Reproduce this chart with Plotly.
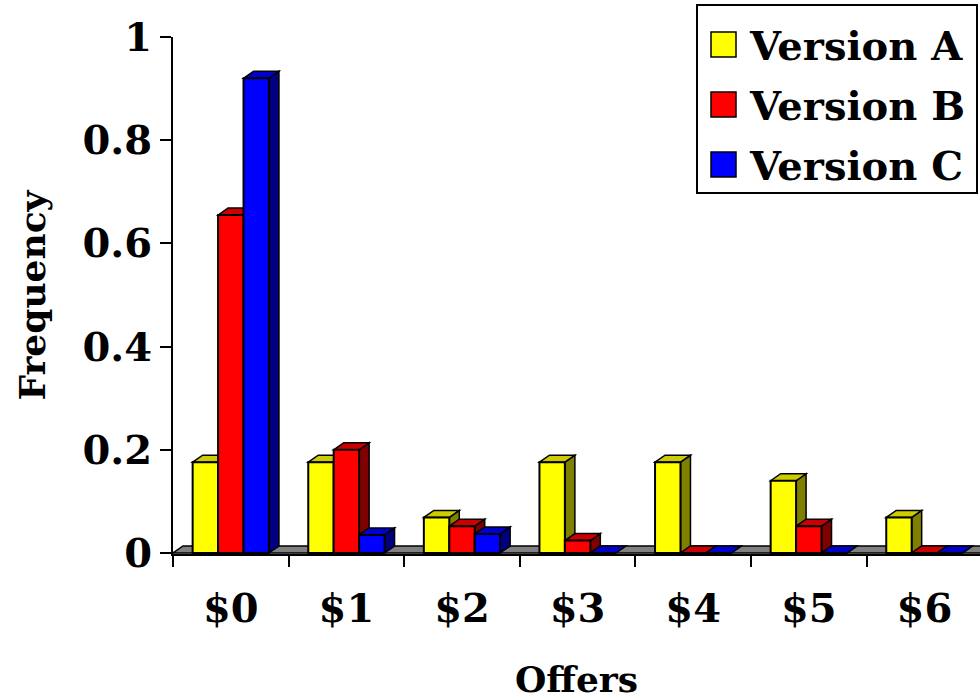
import plotly.graph_objects as go

# Offer categories and the share of responders in each version
offers = ["$0", "$1", "$2", "$3", "$4", "$5", "$6"]
series_names = ["Version A", "Version B", "Version C"]
version_a = [0.176, 0.176, 0.069, 0.176, 0.176, 0.14, 0.069]
version_b = [0.655, 0.2, 0.052, 0.024, 0.0, 0.052, 0.0]
version_c = [0.92, 0.035, 0.037, 0.0, 0.0, 0.0, 0.0]
y_ticks = [0, 0.2, 0.4, 0.6, 0.8, 1]
y_tick_labels = ["0", "0.2", "0.4", "0.6", "0.8", "1"]

series_values = [version_a, version_b, version_c]
front_colors = ["#FFFF00", "#FF0000", "#0000FF"]
top_colors = ["#CCCC00", "#CC0000", "#0000CC"]
side_colors = ["#808000", "#800000", "#000080"]

FONT = "DejaVu Serif"
W, H = 980, 700
plot_l, plot_r, plot_t, plot_b = 173, 980, 37, 554
px_per_cat = 115.6
px_per_unit = 516.0
zero_px = 553.0

x_range = [-0.5, -0.5 + (plot_r - plot_l) / px_per_cat]
y_range = [-(plot_b - zero_px) / px_per_unit, (zero_px - plot_t) / px_per_unit]

# oblique offset used for the pseudo-3D depth of bars and floor
dx = 10 / px_per_cat
dy = 7 / px_per_unit
bargap = 0.34
bar_w = (1 - bargap) / len(series_values)


def poly(points):
    return "M " + " L ".join(f"{x:.5f},{y:.5f}" for x, y in points) + " Z"


shapes = []
# floor slab
shapes.append(dict(
    type="path", xref="x", yref="y", layer="below",
    path=poly([(-0.5, 0), (-0.5 + dx, dy), (len(offers) + 1, dy), (len(offers) + 1, 0)]),
    fillcolor="#808080", line=dict(color="black", width=1.5),
))

# side and top faces, drawn under the front faces
for i in range(len(offers)):
    for k, vals in enumerate(series_values):
        v = vals[i]
        xc = i + (k - (len(series_values) - 1) / 2) * bar_w
        xl, xr = xc - bar_w / 2, xc + bar_w / 2
        shapes.append(dict(
            type="path", xref="x", yref="y", layer="below",
            path=poly([(xr, 0), (xr + dx, dy), (xr + dx, v + dy), (xr, v)]),
            fillcolor=side_colors[k], line=dict(color="black", width=1.5),
        ))
        shapes.append(dict(
            type="path", xref="x", yref="y", layer="below",
            path=poly([(xl, v), (xl + dx, v + dy), (xr + dx, v + dy), (xr, v)]),
            fillcolor=top_colors[k], line=dict(color="black", width=1.5),
        ))

fig = go.Figure()
for k, vals in enumerate(series_values):
    fig.add_trace(go.Bar(
        x=offers, y=vals, name=series_names[k],
        marker=dict(color=front_colors[k], line=dict(color="black", width=2)),
        showlegend=False, hoverinfo="x+y+name", cliponaxis=False,
    ))

# legend box with square swatches
def to_paper_x(px):
    return (px - plot_l) / (plot_r - plot_l)


def to_paper_y(py):
    return (plot_b - py) / (plot_b - plot_t)


annotations = []
shapes.append(dict(
    type="rect", xref="paper", yref="paper",
    x0=to_paper_x(697), x1=to_paper_x(977), y0=to_paper_y(193), y1=to_paper_y(5),
    fillcolor="white", line=dict(color="black", width=2), layer="above",
))
for k, name in enumerate(series_names):
    cy = 45 + 60 * k
    shapes.append(dict(
        type="rect", xref="paper", yref="paper",
        x0=to_paper_x(711), x1=to_paper_x(736), y0=to_paper_y(cy + 12), y1=to_paper_y(cy - 13),
        fillcolor=front_colors[k], line=dict(color="black", width=1.5), layer="above",
    ))
    annotations.append(dict(
        xref="paper", yref="paper", x=to_paper_x(747), y=to_paper_y(cy),
        xanchor="left", yanchor="middle", showarrow=False, text=name,
        font=dict(family=FONT, size=40, color="black", weight="bold"),
    ))

fig.update_layout(
    width=W, height=H,
    margin=dict(l=plot_l, r=W - plot_r, t=plot_t, b=H - plot_b, autoexpand=False),
    paper_bgcolor="white", plot_bgcolor="white",
    barmode="group", bargap=bargap, bargroupgap=0,
    shapes=shapes, annotations=annotations,
    font=dict(family=FONT, color="black"),
)
fig.update_xaxes(
    type="category", range=x_range, tickson="boundaries",
    ticks="outside", ticklen=11, tickwidth=2, tickcolor="black",
    showline=True, linecolor="black", linewidth=2, showgrid=False,
    tickfont=dict(family=FONT, size=40, color="black", weight="bold"),
    ticklabelstandoff=18,
    title=dict(text="Offers", standoff=40,
               font=dict(family=FONT, size=36, color="black", weight="bold")),
)
fig.update_yaxes(
    range=y_range, tickvals=y_ticks, ticktext=y_tick_labels,
    ticks="outside", ticklen=11, tickwidth=2, tickcolor="black",
    showline=True, linecolor="black", linewidth=2, showgrid=False, zeroline=False,
    tickfont=dict(family=FONT, size=40, color="black", weight="bold"),
    title=dict(text="Frequency", standoff=26,
               font=dict(family=FONT, size=36, color="black", weight="bold")),
)

fig.write_html("out.html")
